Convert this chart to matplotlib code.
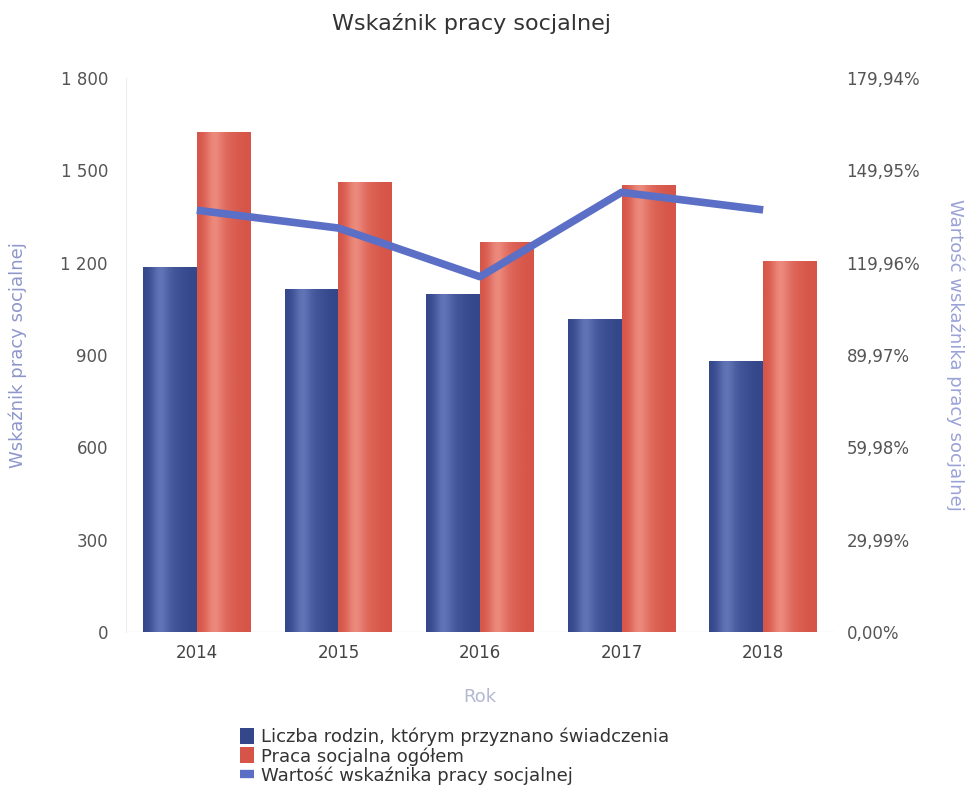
import numpy as np
import matplotlib
matplotlib.use('Agg')
import matplotlib.pyplot as plt
from matplotlib.patches import Patch
from matplotlib.lines import Line2D
import matplotlib.ticker as mtick

# Data
years = ['2014', '2015', '2016', '2017', '2018']
families = [1186, 1114, 1098, 1017, 880]        # Liczba rodzin, którym przyznano świadczenia
social_work = [1625, 1462, 1267, 1452, 1205]    # Praca socjalna ogółem
indicator = [137.0, 131.2, 115.4, 142.8, 137.1]  # Wartość wskaźnika pracy socjalnej (%)

left_ticks = [0, 300, 600, 900, 1200, 1500, 1800]
right_ticks = [0.0, 29.99, 59.98, 89.97, 119.96, 149.95, 179.94]

plt.rcParams['font.family'] = ['DejaVu Sans']


def shaded_bars(ax, x, heights, width, dark, light):
    bars = ax.bar(x, heights, width=width, color=dark, zorder=2)
    # fake the cylinder look with a horizontal gradient clipped to each bar
    grad = np.array([0.0, 0.35, 0.9, 0.55, 0.25, 0.15, 0.05, 0.0])
    cmap = matplotlib.colors.LinearSegmentedColormap.from_list('c', [dark, light])
    for b in bars:
        x0, w, h = b.get_x(), b.get_width(), b.get_height()
        im = ax.imshow(grad.reshape(1, -1), cmap=cmap, vmin=0, vmax=1, aspect='auto',
                       extent=(x0, x0 + w, 0, h), interpolation='bicubic', zorder=2)
        im.set_clip_path(b)
    return bars


fig = plt.figure(figsize=(9.77, 8.01), dpi=100)
ax = fig.add_axes([126 / 977, 1 - 632 / 801, 708 / 977, 554 / 801])

x = np.arange(len(years))
w = 0.38
shaded_bars(ax, x - w / 2, families, w, '#34478a', '#6f82c4')
shaded_bars(ax, x + w / 2, social_work, w, '#d65548', '#f39a8e')

ax.set_xlim(-0.5, len(years) - 0.5)
ax.set_ylim(0, 1800)
ax.set_yticks(left_ticks)
ax.yaxis.set_major_formatter(mtick.FuncFormatter(lambda v, p: f'{int(v):,}'.replace(',', ' ')))
ax.set_xticks(x)
ax.set_xticklabels(years)
ax.tick_params(axis='y', length=0, pad=13, labelsize=12, labelcolor='#555555')
ax.tick_params(axis='x', length=0, pad=9, labelsize=12, labelcolor='#444444')

for s in ['top', 'right', 'bottom']:
    ax.spines[s].set_visible(False)
ax.spines['left'].set_color('#eeeeee')
ax.axhline(0, color='#e6e6e6', lw=1, zorder=1)

ax.set_xlabel('Rok', fontsize=13, color='#b4b8d2', labelpad=18)
ax.set_ylabel('Wskaźnik pracy socjalnej', fontsize=13, color='#8e96cc')
ax.yaxis.set_label_coords(-0.14, 0.5)

ax2 = ax.twinx()
ax2.plot(x, indicator, color='#5c6fc6', lw=5.5, solid_capstyle='butt', zorder=3)
ax2.set_ylim(0, 179.94)
ax2.set_yticks(right_ticks)
ax2.yaxis.set_major_formatter(mtick.FuncFormatter(lambda v, p: f'{v:.2f}%'.replace('.', ',')))
ax2.tick_params(axis='y', length=0, pad=9, labelsize=12, labelcolor='#555555')
for s in ax2.spines.values():
    s.set_visible(False)
ax2.set_ylabel('Wartość wskaźnika pracy socjalnej', fontsize=13, color='#9aa2d6', rotation=270)
ax2.yaxis.set_label_coords(1.185, 0.5)

fig.text(0.483, 1 - 24 / 801, 'Wskaźnik pracy socjalnej', ha='center', va='center',
         fontsize=16, color='#333333')

handles = [
    Patch(facecolor='#34478a', edgecolor='none'),
    Patch(facecolor='#d65548', edgecolor='none'),
    Line2D([0], [0], color='#5c6fc6', lw=6, solid_capstyle='butt'),
]
labels = [
    'Liczba rodzin, którym przyznano świadczenia',
    'Praca socjalna ogółem',
    'Wartość wskaźnika pracy socjalnej',
]
fig.legend(handles, labels, loc='upper left', bbox_to_anchor=(236 / 977, 1 - 724 / 801),
           frameon=False, fontsize=13, handlelength=0.8, handleheight=1.0,
           handletextpad=0.4, labelspacing=0.05, labelcolor='#333333',
           borderaxespad=0, borderpad=0.2)

fig.savefig('out.png', dpi=100, facecolor='white')
